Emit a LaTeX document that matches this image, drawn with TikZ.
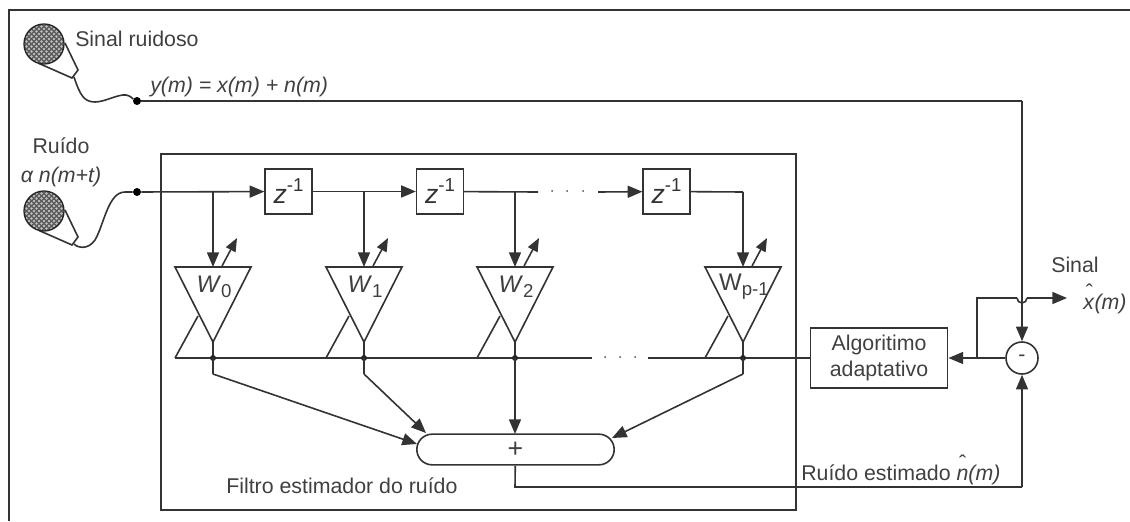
\documentclass[tikz,border=0pt]{standalone}
\usepackage{fontspec}
\setmainfont{Liberation Sans}
\usepackage{tikz}
\usetikzlibrary{arrows.meta}

\newcommand{\hatover}[1]{\makebox[0pt][l]{\hspace{0.12em}\raisebox{0.5em}{\char"02C6}}#1}

\tikzset{
    wire/.style={draw=black!80, line width=1.2pt},
    flow/.style={wire, -{Triangle[length=11pt,width=9pt]}},
    delaybox/.style={draw=black!80, line width=1.2pt, minimum width=35pt, minimum height=34pt, inner sep=0pt, text=black!80, font=\fontsize{20}{20}\selectfont},
    dotnode/.style={circle, fill=black, inner sep=0pt, minimum size=6pt},
    txt/.style={inner sep=0pt, text=black!75, font=\fontsize{16}{19}\selectfont},
    weight/.style={inner sep=0pt, text=black!75, font=\fontsize{18}{18}\selectfont}
}

\begin{document}
\begin{tikzpicture}[x=0.75pt,y=-0.75pt]
        \useasboundingbox (0,0) rectangle (1130,521);

        % outer frame
        \draw[wire] (1130,10) -- (9,10) -- (9,521);

        % filter frame
        \draw[wire] (161,154) rectangle (796,510);

        % microphones
        \foreach \dy/\name in {0/top,167/low}
        {
            \begin{scope}[yshift=-\dy*0.75pt]
                \draw[wire, fill=white] (65,43) -- (78,70) -- (72,78) -- (38,63);
                \begin{scope}
                    \clip (44,44) circle (20);
                    \fill[black!65] (24,24) rectangle (64,64);
                    \foreach \a in {0,...,8}
                    {
                        \foreach \b in {0,...,8}
                        {
                            \fill[black!25] (24+\a*5,24+\b*5) circle (1.4);
                            \fill[black!25] (26.5+\a*5,26.5+\b*5) circle (1.4);
                        }
                    }
                \end{scope}
                \draw[black!85, line width=1pt] (44,44) circle (20);
            \end{scope}
        }

        \coordinate (cabletop) at (74,77);
        \coordinate (cablelow) at (74,244);

        \node[dotnode] (ytap) at (137,101) {};
        \node[dotnode] (ntap) at (137,192) {};

        % cables
        \draw[wire] (cabletop) .. controls (80,95) and (84,102) .. (95,102)
            .. controls (105,102) and (118,94) .. (126,95) .. controls (131,96) and (133,99) .. (ytap);
        \draw[wire] (cablelow) .. controls (78,248) and (88,250) .. (95,240)
            .. controls (104,225) and (108,192) .. (125,192) -- (ntap);

        % delay line
        \node[delaybox] (z1) at (288.5,191.5) {\textit{z}\raisebox{0.45em}{\fontsize{14}{14}\selectfont -1}};
        \node[delaybox] (z2) at (440,191.5) {\textit{z}\raisebox{0.45em}{\fontsize{14}{14}\selectfont -1}};
        \node[delaybox] (z3) at (666.5,191.5) {\textit{z}\raisebox{0.45em}{\fontsize{14}{14}\selectfont -1}};

        \coordinate (gapa) at (538,192);
        \coordinate (gapb) at (598,192);
        \coordinate (lastcorner) at (743,192);

        \draw[flow] (ntap) -- (z1);
        \draw[flow] (z1) -- (z2);
        \draw[wire] (z2) -- (gapa);
        \draw[flow] (gapb) -- (z3);
        \draw[wire] (z3) -- (lastcorner);

        % dots of the delay line
        \foreach \x in {552,567,583}
        {
            \fill[black!70] (\x,191) circle (1);
        }

        % bus, left and right of the gap
        \coordinate (busstart) at (175,358);
        \coordinate (gapc) at (592,358);
        \coordinate (gapd) at (648,358);

        \foreach \x in {605,620,635}
        {
            \fill[black!70] (\x,357) circle (1);
        }

        % sum and algorithm
        \node[draw=black!80, line width=1.2pt, rounded corners=11.5pt, minimum width=148pt, minimum height=23pt, inner sep=0pt, text=black!75, font=\fontsize{20}{20}\selectfont] (sum) at (515.5,449.5) {+};
        \node[draw=black!80, line width=1.2pt, minimum width=103pt, minimum height=45pt, inner sep=0pt, align=center, txt] (algo) at (879,358) {Algoritimo\\adaptativo};
        \node[draw=black!80, circle, line width=1.2pt, minimum size=24pt, inner sep=0pt, txt] (minus) at (1022,358) {-};

        \draw[wire] (busstart) -- (gapc);
        \draw[wire] (gapd) -- (algo);

        % weights, the tap of each one and what it adds to the sum
        \foreach \tap/\lbl/\target/\i in {213/{\textit{W}\raisebox{-0.2em}{\fontsize{14}{14}\selectfont 0}}/{417,444}/0,
            364/{\textit{W}\raisebox{-0.2em}{\fontsize{14}{14}\selectfont 1}}/{426,433}/1,
            515/{\textit{W}\raisebox{-0.2em}{\fontsize{14}{14}\selectfont 2}}/{515,434}/2,
            743/{W\raisebox{-0.2em}{\fontsize{14}{14}\selectfont p-1}}/{612,438}/3}
        {
            \begin{scope}[xshift=\tap*0.75pt]
                \draw[wire, line join=miter] (-38,267) -- (38,267) -- (0,342) -- cycle;
                \draw[wire] (-38,358) -- (-15,316);
                \draw[wire] (0,342) -- (0,358);
                \draw[wire, -{Triangle[length=10pt,width=8pt]}] (9,266) -- (24,238);
                \coordinate (up\i) at (0,192);
                \coordinate (in\i) at (0,267);
                \coordinate (out\i) at (0,358);
                \coordinate (bend\i) at (0,374);
            \end{scope}
            \node[weight] (w\i) at (\tap+1,287) {\lbl};
            \coordinate (add\i) at (\target);
            \draw[flow] (up\i) -- (in\i);
            \fill[black!85] (out\i) circle (3);
        }

        \draw[wire] (out0) -- (bend0);
        \draw[wire] (out1) -- (bend1);
        \draw[wire] (out3) -- (bend3);
        \draw[flow] (bend0) -- (add0);
        \draw[flow] (bend1) -- (add1);
        \draw[flow] (out2) -- (add2);
        \draw[flow] (bend3) -- (add3);

        % outputs
        \coordinate (ycorner) at (1022,101);
        \coordinate (hopa) at (1017,298);
        \coordinate (hopb) at (1027,298);
        \coordinate (branch) at (977,358);
        \coordinate (branchup) at (977,298);
        \coordinate (sigout) at (1067,298);
        \coordinate (nlow) at (515,487);
        \coordinate (nright) at (1022,487);

        \draw[wire] (ytap) -- (ycorner);
        \draw[flow] (ycorner) -- (minus);
        \draw[flow] (minus) -- (algo);
        \draw[wire] (branch) -- (branchup) -- (hopa);
        \draw[wire] (hopa) arc[start angle=180, end angle=0, radius=5];
        \draw[flow] (hopb) -- (sigout);
        \draw[wire] (sum) -- (nlow) -- (nright);
        \draw[flow] (nright) -- (minus);

        % labels
        \node[txt, anchor=west] (noisy) at (75,39) {Sinal ruidoso};
        \node[txt, anchor=west] (eqn) at (150,87) {\textit{y(m) = x(m) + n(m)}};
        \node[txt] (noise) at (61,146) {Ruído};
        \node[txt] (noiseeq) at (61,177) {\textit{α n(m+t)}};
        \node[txt, anchor=west] (filter) at (226,486) {Filtro estimador do ruído};
        \node[txt, anchor=west] (est) at (801,470) {Ruído estimado \hatover{\textit{n}}\textit{(m)}};
        \node[txt, anchor=west] (sig) at (1051,265) {Sinal};
        \node[txt, anchor=west] (sighat) at (1083,299) {\hatover{\textit{x}}\textit{(m)}};
    \end{tikzpicture}
\end{document}
